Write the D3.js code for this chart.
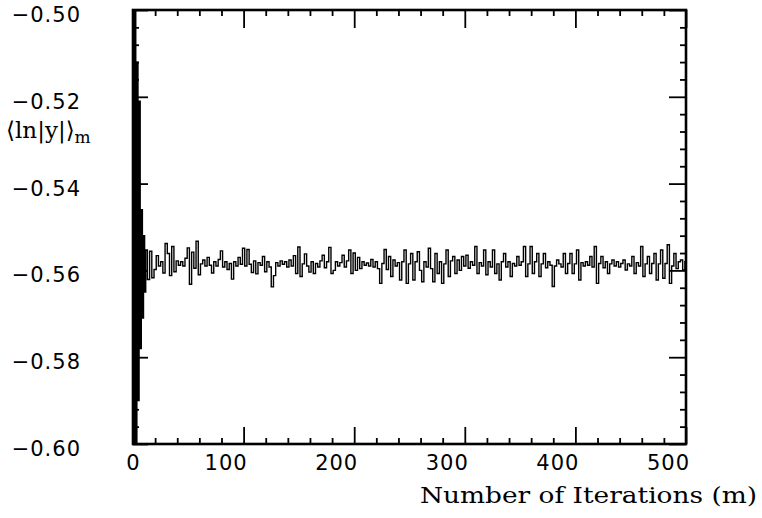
<!DOCTYPE html>
<html>
<head>
<meta charset="utf-8">
<script src="https://cdn.jsdelivr.net/npm/d3@7"></script>
<style>
  body { margin: 0; background: #fff; }
  svg { display: block; }
  .tick text { font-family: "DejaVu Sans", sans-serif; font-size: 21px; fill: #000; letter-spacing: 1px; }
</style>
</head>
<body>
<div id="chart"></div>
<script>
// first iterations, one by one (wild swings)
const earlyIter = [0, 1, 2, 3, 4, 5, 6, 7, 8, 9, 10, 11];
const earlyVals = [-0.500, -0.600, -0.500, -0.600, -0.512, -0.590, -0.521, -0.578, -0.546, -0.571, -0.552, -0.565];

// from iteration 12 on, every 2nd iteration
const lateStart = 12, lateStep = 2;
const lateVals = [
  -0.5553, -0.5621, -0.5556, -0.5617, -0.5598, -0.5566, -0.5590, -0.5580, -0.5606, -0.5538,
  -0.5561, -0.5612, -0.5545, -0.5603, -0.5578, -0.5588, -0.5580, -0.5590, -0.5572, -0.5548,
  -0.5632, -0.5558, -0.5595, -0.5533, -0.5610, -0.5585, -0.5576, -0.5590, -0.5570, -0.5588,
  -0.5606, -0.5580, -0.5590, -0.5575, -0.5555, -0.5592, -0.5580, -0.5598, -0.5584, -0.5620,
  -0.5580, -0.5590, -0.5570, -0.5586, -0.5549, -0.5590, -0.5552, -0.5586, -0.5605, -0.5578,
  -0.5608, -0.5582, -0.5588, -0.5568, -0.5603, -0.5580, -0.5592, -0.5638, -0.5612, -0.5582,
  -0.5590, -0.5578, -0.5586, -0.5580, -0.5592, -0.5576, -0.5590, -0.5566, -0.5607, -0.5546,
  -0.5614, -0.5585, -0.5562, -0.5590, -0.5604, -0.5580, -0.5607, -0.5584, -0.5592, -0.5578,
  -0.5565, -0.5594, -0.5580, -0.5547, -0.5607, -0.5600, -0.5580, -0.5590, -0.5582, -0.5565,
  -0.5592, -0.5578, -0.5553, -0.5607, -0.5560, -0.5600, -0.5570, -0.5596, -0.5580, -0.5588,
  -0.5583, -0.5590, -0.5575, -0.5592, -0.5580, -0.5596, -0.5630, -0.5584, -0.5552, -0.5598,
  -0.5568, -0.5614, -0.5576, -0.5590, -0.5582, -0.5622, -0.5580, -0.5553, -0.5630, -0.5585,
  -0.5561, -0.5622, -0.5580, -0.5557, -0.5600, -0.5626, -0.5580, -0.5592, -0.5549, -0.5596,
  -0.5626, -0.5561, -0.5607, -0.5580, -0.5630, -0.5585, -0.5553, -0.5614, -0.5578, -0.5568,
  -0.5607, -0.5576, -0.5600, -0.5568, -0.5590, -0.5565, -0.5595, -0.5580, -0.5588, -0.5545,
  -0.5607, -0.5582, -0.5590, -0.5553, -0.5610, -0.5580, -0.5592, -0.5553, -0.5607, -0.5585,
  -0.5622, -0.5580, -0.5561, -0.5592, -0.5580, -0.5614, -0.5584, -0.5590, -0.5568, -0.5588,
  -0.5580, -0.5545, -0.5614, -0.5585, -0.5545, -0.5607, -0.5580, -0.5561, -0.5614, -0.5585,
  -0.5561, -0.5594, -0.5580, -0.5588, -0.5637, -0.5590, -0.5576, -0.5585, -0.5592, -0.5561,
  -0.5607, -0.5584, -0.5561, -0.5607, -0.5585, -0.5553, -0.5622, -0.5582, -0.5590, -0.5580,
  -0.5588, -0.5568, -0.5592, -0.5545, -0.5630, -0.5584, -0.5568, -0.5594, -0.5580, -0.5607,
  -0.5585, -0.5576, -0.5590, -0.5580, -0.5592, -0.5584, -0.5576, -0.5599, -0.5585, -0.5590,
  -0.5568, -0.5607, -0.5582, -0.5590, -0.5545, -0.5614, -0.5585, -0.5568, -0.5607, -0.5584,
  -0.5561, -0.5622, -0.5585, -0.5553, -0.5618, -0.5584, -0.5541, -0.5630, -0.5590, -0.5561,
  -0.5596, -0.5580, -0.5576, -0.5599, -0.5580
];

const xTicks = [0, 100, 200, 300, 400, 500];
const yTicks = [-0.60, -0.58, -0.56, -0.54, -0.52, -0.50];

const width = 762, height = 518;
const margin = { left: 133, right: 76, top: 10, bottom: 74 };

const svg = d3.select('#chart')
  .append('svg')
  .attr('width', width)
  .attr('height', height);

const x = d3.scaleLinear().domain([0, 500]).range([margin.left, width - margin.right]);
const y = d3.scaleLinear().domain([-0.60, -0.50]).range([height - margin.bottom, margin.top]);

const points = earlyIter.map((it, i) => ({ it: it, v: earlyVals[i] }))
  .concat(lateVals.map((v, i) => ({ it: lateStart + i * lateStep, v: v })));

svg.append('clipPath').attr('id', 'plotClip')
  .append('rect')
  .attr('x', x(0)).attr('y', y(-0.50))
  .attr('width', x(500) - x(0)).attr('height', y(-0.60) - y(-0.50));

// step curve: vertical jumps between iterations, like the scanned trace
const line = d3.line()
  .curve(d3.curveStep)
  .x(d => x(d.it))
  .y(d => y(d.v));

svg.append('path')
  .datum(points)
  .attr('clip-path', 'url(#plotClip)')
  .attr('d', line)
  .attr('fill', 'none')
  .attr('stroke', '#000')
  .attr('stroke-width', 1.4);

// minor tick positions
const xMinor = d3.range(0, 501, 20).filter(v => v % 100 !== 0);
const yMinor = d3.range(-0.600, -0.4999, 0.004).filter(v => Math.abs(Math.round(v * 50) - v * 50) > 1e-6);

function strip(g) {
  g.select('.domain').remove();
  g.selectAll('.tick line').attr('stroke', '#000').attr('stroke-width', 1.8);
}

// bottom axis (ticks point inward)
svg.append('g')
  .attr('transform', `translate(0,${y(-0.60)})`)
  .call(d3.axisBottom(x).tickValues(xTicks).tickSize(-17).tickPadding(11).tickFormat(d3.format('d')))
  .call(strip)
  .call(g => g.selectAll('.tick text').attr('dx', d => d === 0 ? 0 : -18));

svg.append('g')
  .attr('transform', `translate(0,${y(-0.60)})`)
  .call(d3.axisBottom(x).tickValues(xMinor).tickSize(-6).tickFormat(''))
  .call(strip);

// top axis
svg.append('g')
  .attr('transform', `translate(0,${y(-0.50)})`)
  .call(d3.axisTop(x).tickValues(xTicks).tickSize(-18).tickFormat(''))
  .call(strip);

svg.append('g')
  .attr('transform', `translate(0,${y(-0.50)})`)
  .call(d3.axisTop(x).tickValues(xMinor).tickSize(-6).tickFormat(''))
  .call(strip);

// left axis
svg.append('g')
  .attr('transform', `translate(${x(0)},0)`)
  .call(d3.axisLeft(y).tickValues(yTicks).tickSize(-15).tickPadding(52)
    .tickFormat(d => d3.format('.2f')(d).replace('-', '\u2212')))
  .call(strip)
  .call(g => g.selectAll('.tick text').attr('dy', '0.55em'));

svg.append('g')
  .attr('transform', `translate(${x(0)},0)`)
  .call(d3.axisLeft(y).tickValues(yMinor).tickSize(-6).tickFormat(''))
  .call(strip);

// right axis
svg.append('g')
  .attr('transform', `translate(${x(500)},0)`)
  .call(d3.axisRight(y).tickValues(yTicks).tickSize(-17).tickFormat(''))
  .call(strip);

svg.append('g')
  .attr('transform', `translate(${x(500)},0)`)
  .call(d3.axisRight(y).tickValues(yMinor).tickSize(-6).tickFormat(''))
  .call(strip);

// frame
svg.append('rect')
  .attr('x', x(0)).attr('y', y(-0.50))
  .attr('width', x(500) - x(0)).attr('height', y(-0.60) - y(-0.50))
  .attr('fill', 'none')
  .attr('stroke', '#000')
  .attr('stroke-width', 2.6);

// axis titles
svg.append('text')
  .attr('x', 757)
  .attr('y', 503)
  .attr('text-anchor', 'end')
  .attr('font-family', '"DejaVu Serif", serif')
  .attr('font-size', 22)
  .attr('textLength', 337)
  .attr('lengthAdjust', 'spacingAndGlyphs')
  .text('Number of Iterations (m)');

const yl = svg.append('text')
  .attr('x', 6)
  .attr('y', 138)
  .attr('font-family', '"DejaVu Serif", serif')
  .attr('font-size', 23);
yl.append('tspan').text('\u27E8ln|y|\u27E9');
yl.append('tspan').attr('dy', 5).attr('font-size', 17).text('m');
</script>
</body>
</html>
